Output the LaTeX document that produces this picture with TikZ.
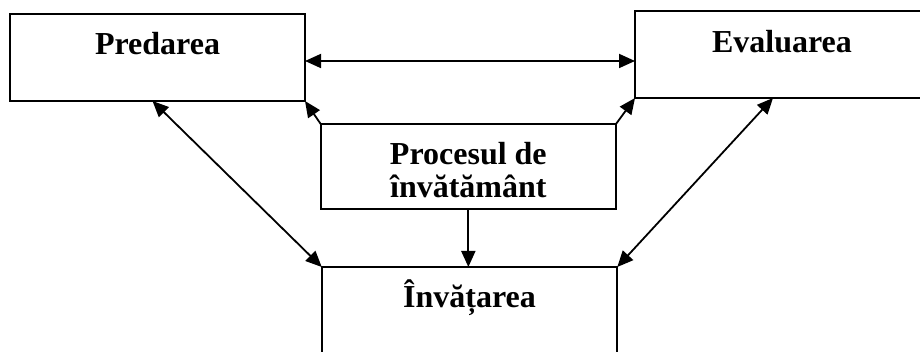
\documentclass[tikz,border=0pt]{standalone}
\usepackage{fontspec}
\setmainfont{Liberation Serif}
\usetikzlibrary{arrows.meta}
\begin{document}
\begin{tikzpicture}[x=1pt,y=-1pt,
  box/.style={draw=black, line width=2pt, rectangle, outer sep=0pt, inner sep=0pt},
  lbl/.style={anchor=base, inner sep=0pt, font=\fontsize{32}{33}\selectfont\bfseries},
  tip/.style={-{Triangle[length=16pt,width=14pt]}, line width=1.8pt},
  both/.style={{Triangle[length=16pt,width=14pt]}-{Triangle[length=16pt,width=14pt]}, line width=1.8pt}]
  \useasboundingbox (0,0) rectangle (920,352);
  \clip (0,0) rectangle (920,352);
  % boxes
  \node[box, minimum width=295pt, minimum height=87pt] (pred) at (157.5,57.5) {};
  \node[box, minimum width=294pt, minimum height=87pt] (eval) at (782,54.5) {};
  \node[box, minimum width=295.3pt, minimum height=85.3pt] (proc) at (468.35,166.65) {};
  \node[box, minimum width=295.5pt, minimum height=89pt] (inv) at (469.5,311.5) {};
  % labels
  \node[lbl] (predT) at (157.5,55) {Predarea};
  \node[lbl] (evalT) at (782,53) {Evaluarea};
  \node[lbl] (procT1) at (468.35,165) {Procesul de};
  \node[lbl] (procT2) at (468.35,198) {învătământ};
  \node[lbl] (invT) at (469.5,308) {Învățarea};
  % connectors
  \draw[both] ([yshift=-3.5pt]pred.east) -- ([yshift=-3.5pt]pred.east -| eval.west);
  \draw[tip] (proc.north west) -- (pred.south east);
  \draw[tip] (proc.north east) -- (eval.south west);
  \draw[both] ([xshift=-5pt]pred.south) -- (inv.north west);
  \draw[both] ([xshift=-9pt]eval.south) -- (inv.north east);
  \draw[tip] (proc.south) -- (proc.south |- inv.north);
\end{tikzpicture}
\end{document}
